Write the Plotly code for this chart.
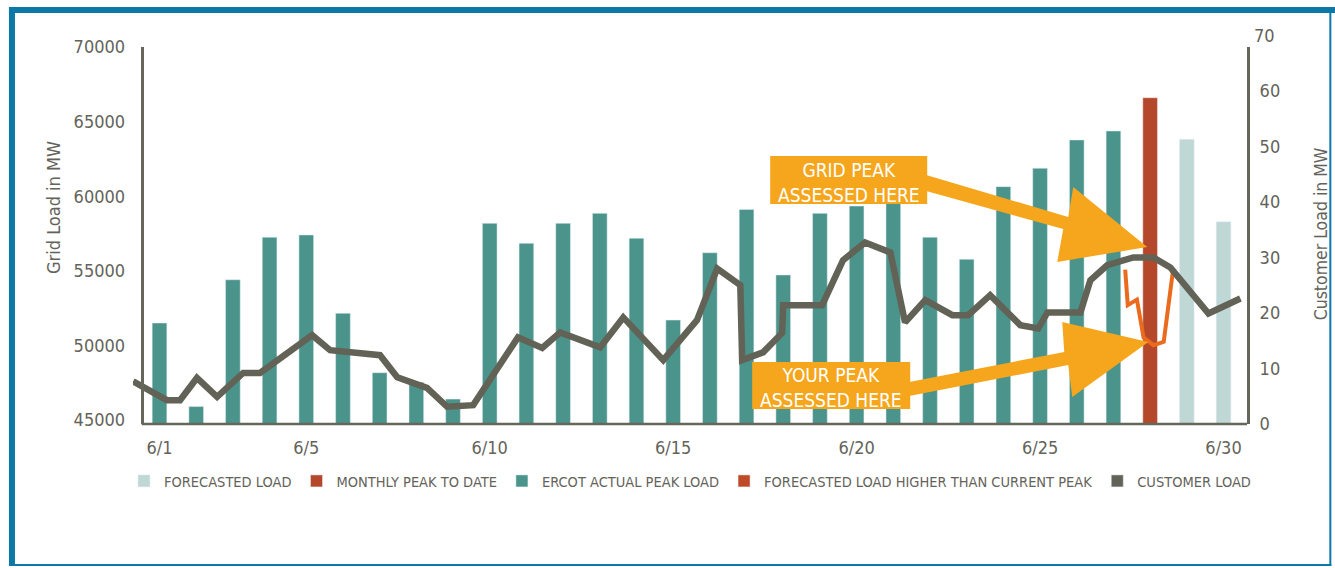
import plotly.graph_objects as go

# ---------------- data ----------------
days = list(range(1, 31))
ercot_days = days[:27]
ercot_load = [51500, 45900, 54400, 57250, 57400, 52150, 48170, 47530, 46400, 58180,
              56840, 58180, 58850, 57180, 51700, 56210, 59110, 54720, 58850, 59340,
              60000, 57250, 55770, 60640, 61870, 63770, 64370]
peak_days = [28]
peak_load = [66600]
forecast_days = [29, 30]
forecast_load = [63810, 58290]

cust_day = [0.28, 1.20, 1.56, 2.02, 2.57, 3.28, 3.74, 5.16, 5.65, 7.01, 7.48, 8.29, 8.84,
            9.55, 10.77, 11.43, 11.92, 13.01, 13.64, 14.73, 15.65, 16.20, 16.83, 16.88,
            17.45, 17.97, 18.00, 19.06, 19.63, 20.23, 20.92, 21.32, 21.87, 22.61, 23.04,
            23.64, 24.46, 24.95, 25.20, 26.10, 26.37, 26.83, 27.54, 28.09, 28.55, 29.59, 30.46]
cust_load = [7.7, 4.3, 4.3, 8.3, 4.9, 9.2, 9.2, 16.0, 13.3, 12.4, 8.4, 6.5, 3.1,
             3.4, 15.6, 13.7, 16.5, 13.8, 19.2, 11.5, 18.7, 28.0, 25.0, 11.5,
             12.9, 16.4, 21.4, 21.4, 29.5, 32.7, 30.9, 18.3, 22.3, 19.6, 19.6,
             23.2, 17.8, 17.2, 20.1, 20.1, 25.9, 28.6, 30.0, 30.0, 28.2, 19.9, 22.6]

peak_window_day = [27.32, 27.39, 27.64, 27.82, 28.09, 28.37, 28.62]
peak_window_load = [27.8, 21.4, 22.4, 15.6, 14.2, 14.8, 27.5]

xtick_vals = [1, 5, 10, 15, 20, 25, 30]
xtick_text = ["6/1", "6/5", "6/10", "6/15", "6/20", "6/25", "6/30"]
ytick_left = [45000, 50000, 55000, 60000, 65000, 70000]
ytick_left_text = ["45000", "50000", "55000", "60000", "65000", "70000"]
ytick_right = [0, 10, 20, 30, 40, 50, 60]

# ---------------- style ----------------
W, H = 1335, 568
PL, PR, PT, PB = 133, 1246.7, 47, 424
FONT = "Liberation Sans Narrow, DejaVu Sans Condensed, Roboto, sans-serif"
TXT = "#64635a"
AX = "#66665a"
TEAL = "#4b948b"
RED = "#b5482a"
LIGHT = "#bfd8d6"
GREY = "#626356"
ORANGE = "#f6a61c"
ORANGE_LINE = "#ea6a1e"
BLUE = "#0b78a8"


def fx(x):
    return (x - PL) / (PR - PL)


def fy(y):
    return (PB - y) / (PB - PT)


fig = go.Figure()
fig.add_trace(go.Bar(x=forecast_days, y=forecast_load, name="FORECASTED LOAD",
                     marker_color=LIGHT, width=0.4))
fig.add_trace(go.Bar(x=peak_days, y=peak_load, name="MONTHLY PEAK TO DATE",
                     marker_color=RED, width=0.4))
fig.add_trace(go.Bar(x=ercot_days, y=ercot_load, name="ERCOT ACTUAL PEAK LOAD",
                     marker_color=TEAL, width=0.4))
fig.add_trace(go.Bar(x=[None], y=[None], name="FORECASTED LOAD HIGHER THAN CURRENT PEAK",
                     marker_color="#bf4a28", width=0.4))
fig.add_trace(go.Bar(x=[None], y=[None], name="CUSTOMER LOAD",
                     marker_color=GREY, width=0.4))
fig.add_trace(go.Scatter(x=peak_window_day, y=peak_window_load, yaxis="y2", mode="lines",
                         line=dict(color=ORANGE_LINE, width=4), showlegend=False))
fig.add_trace(go.Scatter(x=cust_day, y=cust_load, yaxis="y2", mode="lines",
                         line=dict(color=GREY, width=6.5), showlegend=False))

shapes = []
# x axis line
shapes.append(dict(type="line", xref="paper", yref="paper", x0=fx(141.7), x1=fx(1246.7),
                   y0=fy(424), y1=fy(424), line=dict(color=AX, width=2.5), layer="above"))
# blue frame
shapes.append(dict(type="rect", xref="paper", yref="paper", x0=fx(9), x1=fx(1335),
                   y0=fy(7), y1=fy(13), fillcolor=BLUE, line=dict(width=0), layer="above"))
shapes.append(dict(type="rect", xref="paper", yref="paper", x0=fx(9), x1=fx(15),
                   y0=fy(7), y1=fy(566), fillcolor=BLUE, line=dict(width=0), layer="above"))
shapes.append(dict(type="line", xref="paper", yref="paper", x0=fx(1330), x1=fx(1330),
                   y0=fy(7), y1=fy(566), line=dict(color=BLUE, width=2), layer="above"))
shapes.append(dict(type="line", xref="paper", yref="paper", x0=fx(9), x1=fx(1331),
                   y0=fy(565), y1=fy(565), line=dict(color=BLUE, width=2), layer="above"))


def poly(pts):
    return "M " + " L ".join(f"{fx(x):.5f},{fy(y):.5f}" for x, y in pts) + " Z"


# callout boxes
shapes.append(dict(type="rect", xref="paper", yref="paper", x0=fx(770), x1=fx(927),
                   y0=fy(156), y1=fy(204), fillcolor=ORANGE, line=dict(width=0), layer="above"))
shapes.append(dict(type="rect", xref="paper", yref="paper", x0=fx(752), x1=fx(910),
                   y0=fy(362), y1=fy(409), fillcolor=ORANGE, line=dict(width=0), layer="above"))
# arrows
shapes.append(dict(type="path", xref="paper", yref="paper", layer="above",
                   path=poly([(926, 175), (1068, 217), (1073, 187), (1147, 247),
                              (1057, 262), (1063, 229), (926, 191)]),
                   fillcolor=ORANGE, line=dict(width=0)))
shapes.append(dict(type="path", xref="paper", yref="paper", layer="above",
                   path=poly([(909, 382), (1064, 352), (1062, 322), (1148, 342),
                              (1072, 397), (1068, 365), (909, 396)]),
                   fillcolor=ORANGE, line=dict(width=0)))

annotations = []


def txt(x, y, s, size, color, **kw):
    annotations.append(dict(xref="paper", yref="paper", x=fx(x), y=fy(y), text=s,
                            showarrow=False, font=dict(family=FONT, size=size, color=color),
                            xanchor=kw.pop("xanchor", "center"), yanchor="middle", **kw))


txt(848.5, 182, "GRID PEAK<br>ASSESSED HERE", 19, "white")
txt(831, 387, "YOUR PEAK<br>ASSESSED HERE", 19, "white")
txt(53, 207, "Grid Load in MW", 18, TXT, textangle=-90)
txt(1321, 234, "Customer Load in MW", 17.5, TXT, textangle=-90)
txt(1252, 35, "70", 18, TXT, xanchor="left")

fig.update_layout(
    width=W, height=H,
    margin=dict(l=PL, r=W - PR, t=PT, b=H - PB, pad=0),
    paper_bgcolor="white", plot_bgcolor="white",
    barmode="overlay",
    font=dict(family=FONT, color=TXT),
    xaxis=dict(range=[0.2775, 30.64], tickvals=xtick_vals, ticktext=xtick_text,
               showgrid=False, zeroline=False, showline=False, ticks="",
               ticklabelstandoff=11, tickfont=dict(size=18, color=TXT)),
    yaxis=dict(range=[44732, 70000], tickvals=ytick_left, ticktext=ytick_left_text,
               anchor="free", position=fx(141.7),
               showgrid=False, zeroline=False, showline=True, linecolor=AX, linewidth=3,
               ticks="", ticklabelstandoff=12, tickfont=dict(size=18, color=TXT)),
    yaxis2=dict(range=[0, 67.9], tickvals=ytick_right, overlaying="y", side="right",
                showgrid=False, zeroline=False, showline=True, linecolor=AX, linewidth=3,
                ticks="", ticklabelstandoff=6, tickfont=dict(size=18, color=TXT)),
    legend=dict(orientation="h", x=fx(124), y=fy(481), xanchor="left", yanchor="middle",
                font=dict(family=FONT, size=14.5, color=TXT), itemwidth=30,
                bgcolor="rgba(0,0,0,0)", traceorder="normal"),
    shapes=shapes,
    annotations=annotations,
)

fig.write_html("out.html")
